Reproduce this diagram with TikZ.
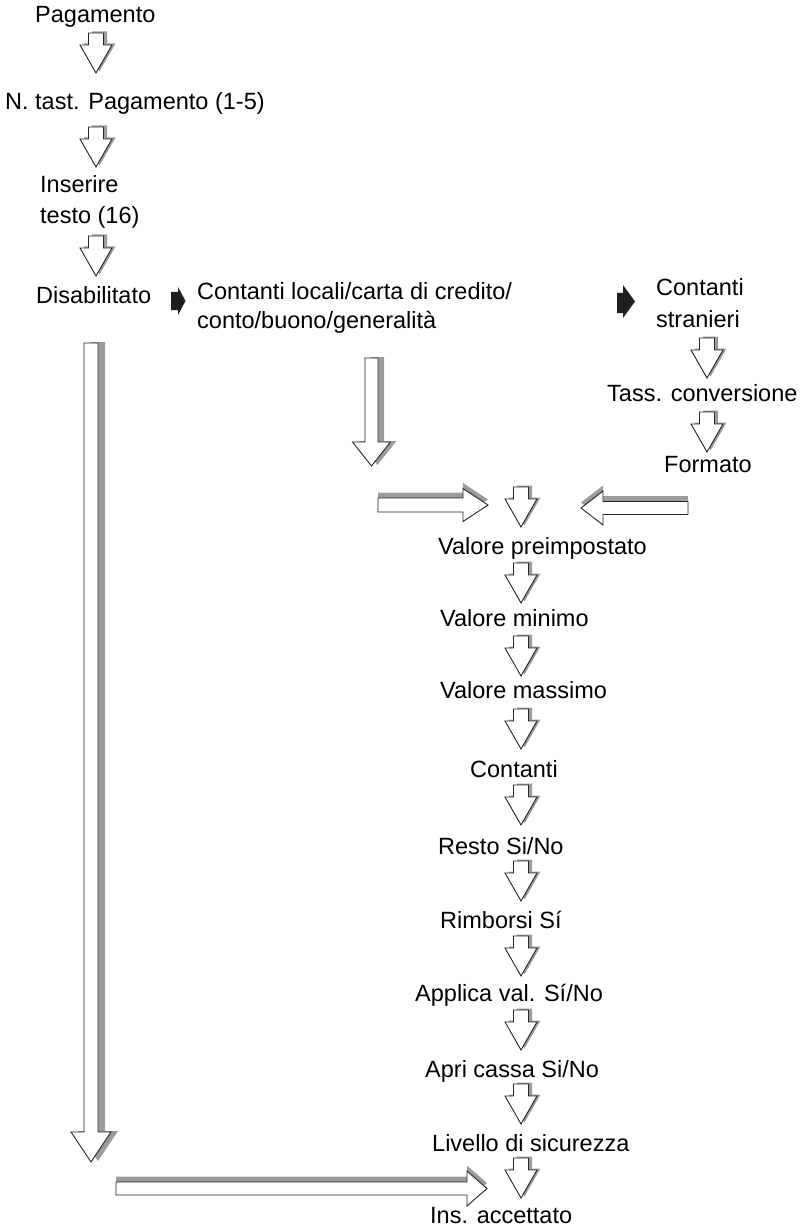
\documentclass[tikz,border=0pt]{standalone}
\usepackage{fontspec}
\setmainfont{Liberation Sans}
\usetikzlibrary{calc}

\definecolor{shadowgray}{HTML}{9C9C9C}
\definecolor{edgeblack}{HTML}{262626}
\definecolor{markerblack}{HTML}{1E1E1E}

% Hollow block arrow with a gray drop shadow, drawn from coordinate #1 to #2.
% #3 shadow offset, #4 shaft half-width, #5 head half-width, #6 head length
\newcommand\blockarrow[6]{%
  \pgfmathanglebetweenpoints{\pgfpointanchor{#1}{center}}{\pgfpointanchor{#2}{center}}%
  \let\baAng\pgfmathresult
  \pgfpointdiff{\pgfpointanchor{#1}{center}}{\pgfpointanchor{#2}{center}}%
  \pgfgetlastxy{\baDX}{\baDY}%
  \pgfmathsetmacro\baLen{veclen(\baDX,\baDY)}%
  \pgfmathsetmacro\baNeck{\baLen-#6}%
  \begin{scope}[shift={(#1)},shift={(#3)},rotate=\baAng]
    \fill[arrowshade] (0,-#4) -- (\baNeck,-#4) -- (\baNeck,-#5) -- (\baLen,0)
      -- (\baNeck,#5) -- (\baNeck,#4) -- (0,#4) -- cycle;
  \end{scope}
  \begin{scope}[shift={(#1)},rotate=\baAng]
    \filldraw[arrowbody] (0,-#4) -- (\baNeck,-#4) -- (\baNeck,-#5) -- (\baLen,0)
      -- (\baNeck,#5) -- (\baNeck,#4) -- (0,#4) -- cycle;
  \end{scope}%
}
% short downward step arrow
\newcommand\stepdown[2]{\blockarrow{#1}{#2}{3.5,1.5}{7.5}{16}{28}}

\begin{document}
\begin{tikzpicture}[x=1pt,y=1pt,
  lbl/.style={anchor=west, inner sep=0pt, text height=1.24em, text depth=0.18em,
    font=\fontsize{23.5}{28}\selectfont},
  arrowshade/.style={fill=shadowgray},
  arrowbody/.style={fill=white, draw=edgeblack, line width=0.9pt, line join=miter},
  marker/.style={fill=markerblack}]
\useasboundingbox (0,0) rectangle (802,-1230);

% ---- labels ----
\node[lbl] (pag)    at (35,-17)   {Pagamento};
\node[lbl] (ntast)  at (5,-104)   {N. tast. Pagamento (1-5)};
\node[lbl] (ins1)   at (40,-187)  {Inserire};
\node[lbl] (ins2)   at (40,-218)  {testo (16)};
\node[lbl] (dis)    at (36,-298)  {Disabilitato};
\node[lbl] (loc1)   at (197,-294) {Contanti locali/carta di credito/};
\node[lbl] (loc2)   at (197,-323) {conto/buono/generalità};
\node[lbl] (str1)   at (656,-290) {Contanti};
\node[lbl] (str2)   at (656,-322) {stranieri};
\node[lbl] (tass)   at (607,-396) {Tass. conversione};
\node[lbl] (form)   at (664,-467) {Formato};
\node[lbl] (vpre)   at (438,-549) {Valore preimpostato};
\node[lbl] (vmin)   at (440,-621) {Valore minimo};
\node[lbl] (vmax)   at (440,-693) {Valore massimo};
\node[lbl] (cont)   at (470,-772) {Contanti};
\node[lbl] (resto)  at (438,-849) {Resto Si/No};
\node[lbl] (rimb)   at (440,-923) {Rimborsi Sí};
\node[lbl] (appl)   at (415,-996) {Applica val. Sí/No};
\node[lbl] (apri)   at (425,-1072) {Apri cassa Si/No};
\node[lbl] (liv)    at (432,-1146) {Livello di sicurezza};
\node[lbl] (insacc) at (430,-1218) {Ins. accettato};

% ---- arrow end points ----
\coordinate (s1a) at (96,-33);   \coordinate (s1b) at (96,-73);
\coordinate (s2a) at (96,-127);  \coordinate (s2b) at (96,-167);
\coordinate (s3a) at (96,-236);  \coordinate (s3b) at (96,-276);
\coordinate (r1a) at (707,-338); \coordinate (r1b) at (707,-378);
\coordinate (r2a) at (707,-412); \coordinate (r2b) at (707,-452);
\coordinate (c0a) at (521,-487); \coordinate (c0b) at (521,-527);
\coordinate (c1a) at (521,-563); \coordinate (c1b) at (521,-603);
\coordinate (c2a) at (521,-636); \coordinate (c2b) at (521,-676);
\coordinate (c3a) at (521,-709); \coordinate (c3b) at (521,-749);
\coordinate (c4a) at (521,-785); \coordinate (c4b) at (521,-825);
\coordinate (c5a) at (521,-861); \coordinate (c5b) at (521,-901);
\coordinate (c6a) at (521,-936); \coordinate (c6b) at (521,-976);
\coordinate (c7a) at (521,-1010); \coordinate (c7b) at (521,-1050);
\coordinate (c8a) at (521,-1084); \coordinate (c8b) at (521,-1124);
\coordinate (c9a) at (521,-1158); \coordinate (c9b) at (521,-1198);

\coordinate (dtail) at (91,-343);    \coordinate (dtip) at (91,-1162);
\coordinate (ltail) at (371.5,-358); \coordinate (ltip) at (371.5,-466);
\coordinate (hltail) at (378,-505);  \coordinate (hltip) at (488,-505);
\coordinate (hrtail) at (688,-508);  \coordinate (hrtip) at (581,-508);
\coordinate (btail) at (116,-1188.5); \coordinate (btip) at (487,-1188.5);

% ---- step arrows ----
\stepdown{s1a}{s1b}
\stepdown{s2a}{s2b}
\stepdown{s3a}{s3b}
\stepdown{r1a}{r1b}
\stepdown{r2a}{r2b}
\stepdown{c0a}{c0b}
\stepdown{c1a}{c1b}
\stepdown{c2a}{c2b}
\stepdown{c3a}{c3b}
\stepdown{c4a}{c4b}
\stepdown{c5a}{c5b}
\stepdown{c6a}{c6b}
\stepdown{c7a}{c7b}
\stepdown{c8a}{c8b}
\stepdown{c9a}{c9b}

% ---- long arrows ----
\blockarrow{dtail}{dtip}{7,1}{7}{20}{30}
\blockarrow{ltail}{ltip}{6,1}{6.5}{19}{24}
\blockarrow{hltail}{hltip}{0,5.5}{7}{16.5}{25}
\blockarrow{hrtail}{hrtip}{0,5.5}{6.5}{17}{22}
\blockarrow{btail}{btip}{0,5.5}{6.5}{17.5}{20}

% ---- option markers ----
\fill[marker] (171,-292) -- (178,-292) -- (178,-287) -- (185.5,-301) -- (178,-315)
  -- (178,-310) -- (171,-310) -- cycle;
\fill[marker] (617,-293) -- (623,-293) -- (623,-285) -- (635,-301.5) -- (623,-318)
  -- (623,-313) -- (617,-313) -- cycle;
\end{tikzpicture}
\end{document}
